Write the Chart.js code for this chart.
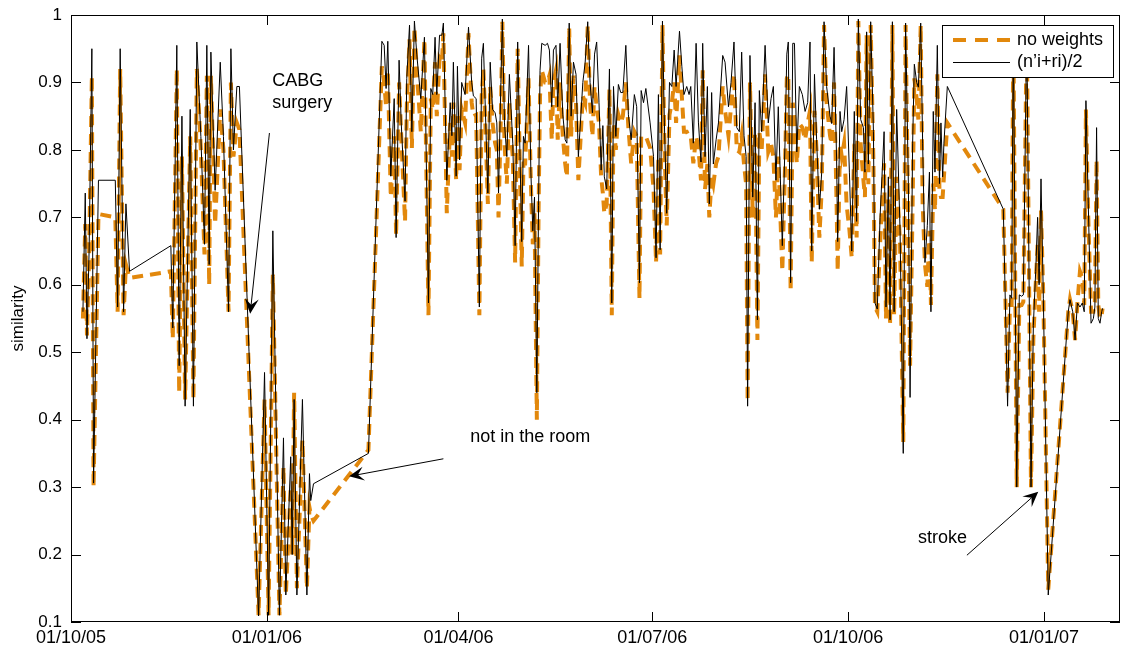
<!DOCTYPE html>
<html>
<head>
<meta charset="utf-8">
<title>similarity</title>
<script src="https://cdn.jsdelivr.net/npm/chart.js@4.4.0/dist/chart.umd.min.js"></script>
<style>
  html, body { margin: 0; padding: 0; background: #fff; }
  canvas { display: block; }
</style>
</head>
<body>
<canvas id="sim-chart" width="1127" height="649"></canvas>
<script>
// x values are days counted from 01/10/05
const days = [
  5.6, 6.7, 7.5, 8.5, 9.8, 10.6, 12.9, 20.8, 21.9, 23.1, 24.7, 25.8, 27.5, 46.9, 47.8, 49.7, 50.8,
  52.1, 53.6, 56.0, 57.5, 59.1, 61.0, 62.7, 63.8, 64.9, 65.7, 67.7, 70.1, 71.6, 74.0, 75.1, 76.3, 77.9, 79.1, 88.1, 90.9, 92.8, 94.8,
  97.9, 99.8, 100.9, 103.2, 103.9, 104.8, 106.1, 108.7, 110.8, 112.0, 112.6, 113.9, 139.7, 146.0,
  147.1, 148.0, 148.8, 150.2, 151.8, 152.7, 154.1, 155.1, 156.9, 157.7, 159.0, 160.1, 161.3, 162.4, 164.3, 166.0, 167.9, 169.0, 169.9,
  171.0, 171.8, 173.1, 174.2, 174.9, 176.5, 178.1, 178.9, 179.6, 180.9, 181.5, 182.5, 183.5, 185.1, 186.7, 188.2, 189.0, 190.3, 191.8,
  192.9, 193.7, 194.8, 195.8, 196.9, 198.0, 199.2, 200.0, 200.8, 201.9, 202.6, 203.6, 204.7, 205.9, 206.7, 207.5, 208.6, 209.8, 210.9,
  211.7, 212.5, 213.3, 214.9, 216.0, 216.9, 217.7, 218.8, 219.6, 220.3, 221.1, 222.7, 223.8, 224.7, 225.8, 226.6, 227.8, 228.6, 229.7,
  231.0, 232.1, 232.9, 234.0, 234.9, 236.0, 237.2, 238.3,
  240.4, 241.5, 242.7, 243.8, 244.9, 245.9, 246.9, 248.0, 249.0, 249.8, 250.5, 251.6, 252.9, 254.0, 254.8, 255.9, 257.1, 258.2, 259.2,
  260.6, 261.8, 263.1, 264.6, 265.7, 267.0, 267.8, 268.9, 270.0, 272.0, 273.6, 274.8, 275.9, 276.7, 277.8, 278.7, 279.8, 281.1, 282.2,
  283.3, 284.2, 285.8,
  286.9, 287.9, 289.2, 290.3, 291.1, 292.3, 293.6, 294.7, 295.9, 296.7, 297.8, 298.9, 299.8, 300.9, 301.7, 303.0, 304.1, 306.1, 307.2,
  308.8, 310.0, 311.4, 312.7, 313.9, 315.0, 316.1, 317.1, 317.8, 318.9, 320.2, 321.3, 322.4, 323.3, 324.4, 326.0, 327.5, 328.8, 329.9,
  331.1, 332.2,
  334.1, 335.4, 336.2, 336.9, 338.0, 339.0, 339.8, 340.9, 342.1, 343.5, 344.8, 346.0, 347.1, 347.9, 349.2, 350.2, 351.5, 352.6, 353.7,
  354.9, 356.5, 357.3, 358.4, 359.6, 360.1, 361.2, 362.0, 363.1, 364.3, 365.6, 366.7, 367.9, 369.0, 369.8, 370.9, 372.2, 372.9, 373.7,
  374.5, 375.6, 376.9,
  377.6, 378.7, 380.0, 381.9, 382.8, 383.9, 384.7, 385.8, 386.6, 387.8, 389.4, 390.9, 392.0, 393.3, 394.1, 395.3, 396.1, 397.2, 398.0,
  399.1, 400.0, 401.1, 402.2, 403.2, 403.9, 405.0, 405.8, 406.9, 407.9, 408.6, 409.4, 410.0, 411.6,
  437.9, 439.9, 441.0, 441.8, 442.6, 444.2, 445.4, 446.5, 447.3, 448.9, 450.9, 452.0, 453.1, 454.0, 454.7, 455.6, 456.7, 459.0,
  468.4, 469.2, 470.5, 471.6, 472.7, 473.9, 475.0, 475.9, 476.7, 477.8, 479.1, 480.2, 480.9, 481.7, 482.5, 483.3, 484.1, 484.5
];

// (n'i+ri)/2
const halfSum = [
  .56, .736, .52, .65, .95, .306, .755, .755, .567, .95, .56, .72, .62, .658, .536, .955, .48,
  .85, .42, .86, .42, .96, .82, .66, .955, .63, .945, .74, .93, .82, .56, .95, .80, .894, .894, .109, .47, .11, .68,
  .11, .373, .14, .345, .20, .43, .14, .43, .14, .32, .28, .305, .35, .961,
  .955, .891, .961, .761, .876, .67, .933, .84, .724, .906, .985, .827, .991, .942, .876, .967, .573, .891, .882,
  .967, .882, .97, .97, .988, .755, .87, .821, .93, .761, .924, .785, .90, .882, .982, .90, .88, .876, .567,
  .936, .958, .84, .736, .93, .86, .855, .84, .736, .90, .994, .84, .79, .912, .86, .81, .658, .96, .79,
  .664, .82, .81, .955, .767, .68, .73, .44, .718, .918, .958, .955, .958, .948, .864, .948, .955, .864, .958,
  .852, .815, .81, .988, .85, .93, .912, .79,
  .90, .93, .99, .90, .855, .942, .96, .87, .77, .836, .76, .742, .92, .573, .894, .82, .897, .885, .885,
  .955, .852, .815, .882, .864, .603, .888, .87, .891, .84, .79, .64, .882, .652, .991, .84, .706, .90, .894,
  .948, .894, .976,
  .924, .882, .894, .882, .894, .81, .958, .84, .782, .958, .79, .894, .72, .885, .779, .815, .84, .94, .93,
  .864, .90, .96, .833, .827, .945, .821, .79, .42, .94, .73, .87, .548, .888, .827, .955, .84, .876, .894,
  .755, .864,
  .658, .815, .942, .96, .603, .958, .958, .797, .894, .882, .857, .87, .96, .65, .912, .815, .712, .767, .99,
  .894, .85, .839, .952, .785, .664, .857, .827, .845, .894, .767, .65, .857, .694, .994, .845, .833, .767, .975,
  .779, .99, .827,
  .573, .564, .70, .827, .567, .76, .548, .99, .56, .86, .68, .35, .988, .75, .433, .81, .927, .90, .893,
  .988, .81, .633, .688, .767, .56, .857, .767, .955, .75, .84, .76, .81, .894,
  .712, .42, .585, .58, .98, .30, .585, .583, .585, .98, .30, .54, .62, .70, .60, .757, .58, .14,
  .56, .578, .56, .518, .573, .567, .573, .56, .873, .72, .543, .55, .567, .833, .55, .543, .56, .565
];

// no weights
const noWeights = [
  .55, .69, .525, .64, .91, .30, .705, .70, .56, .92, .555, .63, .61, .62, .52, .92, .44,
  .79, .43, .82, .43, .92, .80, .645, .91, .60, .91, .69, .86, .80, .56, .90, .79, .84, .83, .11, .43, .11, .615,
  .11, .33, .14, .30, .20, .44, .15, .37, .15, .27, .26, .25, .355, .924,
  .90, .864, .918, .73, .82, .673, .90, .82, .694, .864, .964, .803, .982, .918, .827, .964, .555, .876, .86,
  .93, .85, .936, .93, .973, .706, .84, .79, .87, .755, .85, .77, .86, .84, .973, .87, .85, .852, .555,
  .88, .92, .82, .72, .894, .84, .81, .80, .70, .85, .99, .81, .75, .87, .82, .79, .633, .95, .76,
  .627, .78, .78, .906, .75, .66, .706, .40, .706, .88, .918, .90, .90, .91, .815, .90, .918, .815, .90,
  .82, .78, .76, .98, .82, .91, .87, .755,
  .88, .87, .985, .87, .82, .894, .864, .84, .76, .736, .706, .72, .89, .555, .84, .80, .852, .84, .85,
  .90, .833, .78, .827, .82, .58, .82, .82, .82, .803, .742, .633, .79, .645, .985, .81, .688, .852, .87,
  .90, .84, .94,
  .88, .827, .827, .82, .82, .78, .82, .803, .755, .918, .742, .779, .70, .76, .749, .78, .79, .894, .858,
  .821, .864, .912, .80, .797, .821, .779, .749, .427, .90, .70, .827, .518, .827, .80, .912, .797, .809, .79,
  .70, .79,
  .62, .779, .906, .912, .59, .87, .845, .78, .839, .833, .815, .84, .858, .633, .858, .797, .67, .742, .985,
  .87, .821, .809, .90, .718, .62, .809, .79, .81, .718, .682, .64, .809, .67, .991, .809, .755, .73, .97,
  .749, .985, .779,
  .567, .56, .66, .78, .55, .73, .54, .985, .555, .76, .66, .367, .985, .68, .48, .72, .906, .876, .845,
  .985, .72, .63, .597, .68, .57, .75, .71, .912, .74, .73, .73, .76, .84,
  .712, .44, .57, .57, .98, .30, .57, .57, .575, .98, .30, .52, .60, .66, .56, .71, .58, .148,
  .56, .578, .56, .518, .573, .62, .61, .57, .86, .70, .56, .56, .575, .785, .57, .55, .555, .565
];

const tickDays = [0, 92, 182, 273, 365, 457];
const tickLabels = ['01/10/05', '01/01/06', '01/04/06', '01/07/06', '01/10/06', '01/01/07'];
const seriesNames = ['no weights', '(n\u2019i+ri)/2'];

const ORANGE = 'rgb(226,136,12)';
const FONT = '"Liberation Sans", Arial, Helvetica, sans-serif';
Chart.defaults.font.family = FONT;
Chart.defaults.color = '#000';

const toPoints = vals => days.map((d, i) => ({ x: d, y: vals[i] }));

// box round the axes with inward tick marks on all four sides
const axesBox = {
  id: 'axesBox',
  afterDatasetsDraw(chart) {
    const { ctx, chartArea: a, scales: { x, y } } = chart;
    ctx.save();
    ctx.strokeStyle = '#000';
    ctx.lineWidth = 1;
    ctx.beginPath();
    x.ticks.forEach(t => {
      const px = Math.round(x.getPixelForValue(t.value)) + 0.5;
      ctx.moveTo(px, a.bottom); ctx.lineTo(px, a.bottom - 10);
      ctx.moveTo(px, a.top); ctx.lineTo(px, a.top + 10);
    });
    y.ticks.forEach(t => {
      const py = Math.round(y.getPixelForValue(t.value)) + 0.5;
      ctx.moveTo(a.left, py); ctx.lineTo(a.left + 10, py);
      ctx.moveTo(a.right, py); ctx.lineTo(a.right - 10, py);
    });
    ctx.stroke();
    ctx.strokeRect(Math.round(a.left) + 0.5, Math.round(a.top) + 0.5,
      Math.round(a.right - a.left) - 1, Math.round(a.bottom - a.top) - 1);
    ctx.restore();
  }
};

function drawArrow(ctx, x0, y0, x1, y1) {
  const ang = Math.atan2(y1 - y0, x1 - x0);
  const c = Math.cos(ang), s = Math.sin(ang);
  const len = 15, half = 7, back = 9;
  ctx.beginPath();
  ctx.moveTo(x0, y0);
  ctx.lineTo(x1 - c * back, y1 - s * back);
  ctx.stroke();
  const bx = x1 - c * len, by = y1 - s * len;
  ctx.beginPath();
  ctx.moveTo(x1, y1);
  ctx.lineTo(bx - s * half, by + c * half);
  ctx.lineTo(x1 - c * back, y1 - s * back);
  ctx.lineTo(bx + s * half, by - c * half);
  ctx.closePath();
  ctx.fill();
}

// text notes and arrows, anchored in data units (day, similarity)
const notes = {
  id: 'notes',
  afterDraw(chart) {
    const { ctx, scales: { x, y } } = chart;
    const px = d => x.getPixelForValue(d);
    const py = v => y.getPixelForValue(v);
    ctx.save();
    ctx.fillStyle = '#000';
    ctx.strokeStyle = '#000';
    ctx.lineWidth = 1;
    ctx.font = '18px ' + FONT;
    ctx.textBaseline = 'alphabetic';
    ctx.textAlign = 'left';
    ctx.fillText('CABG', px(94.5), py(0.894));
    ctx.fillText('surgery', px(94.5), py(0.862));
    ctx.fillText('not in the room', px(187.5), py(0.367));
    ctx.fillText('stroke', px(397.8), py(0.217));
    drawArrow(ctx, px(93.2), py(0.825), px(84.15), py(0.557));
    drawArrow(ctx, px(174.9), py(0.342), px(130.6), py(0.316));
    drawArrow(ctx, px(420.8), py(0.199), px(454.3), py(0.293));
    ctx.restore();
  }
};

// boxed legend in the upper right corner
const boxLegend = {
  id: 'boxLegend',
  afterDraw(chart) {
    const { ctx, chartArea: a } = chart;
    const right = a.right - 7, top = a.top + 10, w = 171, h = 52;
    const left = right - w;
    ctx.save();
    ctx.fillStyle = '#fff';
    ctx.fillRect(left, top, w, h);
    ctx.strokeStyle = '#000';
    ctx.lineWidth = 1;
    ctx.strokeRect(Math.round(left) + 0.5, Math.round(top) + 0.5, w, h);
    const rows = [top + 15, top + 37];
    ctx.beginPath();
    ctx.strokeStyle = ORANGE;
    ctx.lineWidth = 4;
    ctx.setLineDash([13, 9]);
    ctx.moveTo(left + 11, rows[0]); ctx.lineTo(left + 68, rows[0]);
    ctx.stroke();
    ctx.setLineDash([]);
    ctx.beginPath();
    ctx.strokeStyle = '#000';
    ctx.lineWidth = 1;
    ctx.moveTo(left + 11, rows[1] + 0.5); ctx.lineTo(left + 68, rows[1] + 0.5);
    ctx.stroke();
    ctx.fillStyle = '#000';
    ctx.font = '18px ' + FONT;
    ctx.textBaseline = 'middle';
    ctx.fillText(seriesNames[0], left + 75, rows[0]);
    ctx.fillText(seriesNames[1], left + 75, rows[1]);
    ctx.restore();
  }
};

new Chart(document.getElementById('sim-chart'), {
  type: 'line',
  data: {
    datasets: [
      {
        label: seriesNames[1],
        data: toPoints(halfSum),
        borderColor: '#000',
        borderWidth: 1,
        pointRadius: 0,
        tension: 0,
        order: 0
      },
      {
        label: seriesNames[0],
        data: toPoints(noWeights),
        borderColor: ORANGE,
        borderWidth: 4,
        borderDash: [11, 7],
        pointRadius: 0,
        tension: 0,
        order: 1
      }
    ]
  },
  options: {
    responsive: false,
    animation: false,
    parsing: false,
    layout: { padding: { top: 15, right: 7, bottom: 0, left: 0 } },
    plugins: { legend: { display: false }, tooltip: { enabled: false } },
    scales: {
      x: {
        type: 'linear',
        min: 0,
        max: 492.7,
        grid: { display: false, drawTicks: false },
        border: { display: false },
        afterBuildTicks: scale => { scale.ticks = tickDays.map(v => ({ value: v })); },
        afterFit: scale => { scale.height = 27; },
        ticks: {
          autoSkip: false,
          maxRotation: 0,
          padding: 5,
          font: { size: 18 },
          callback: v => tickLabels[tickDays.indexOf(v)]
        }
      },
      y: {
        min: 0.1,
        max: 1,
        grid: { display: false, drawTicks: false },
        border: { display: false },
        afterFit: scale => {
          scale.width = 71;
          scale.paddingTop = 0;
          scale.paddingBottom = 0;
        },
        ticks: {
          stepSize: 0.1,
          padding: 9,
          font: { size: 17 },
          callback: v => (Math.abs(v - 1) < 1e-9 ? '1' : v.toFixed(1))
        },
        title: {
          display: true,
          text: 'similarity',
          font: { size: 17 },
          padding: { top: 8, bottom: 0 }
        }
      }
    }
  },
  plugins: [axesBox, notes, boxLegend]
});
</script>
</body>
</html>
